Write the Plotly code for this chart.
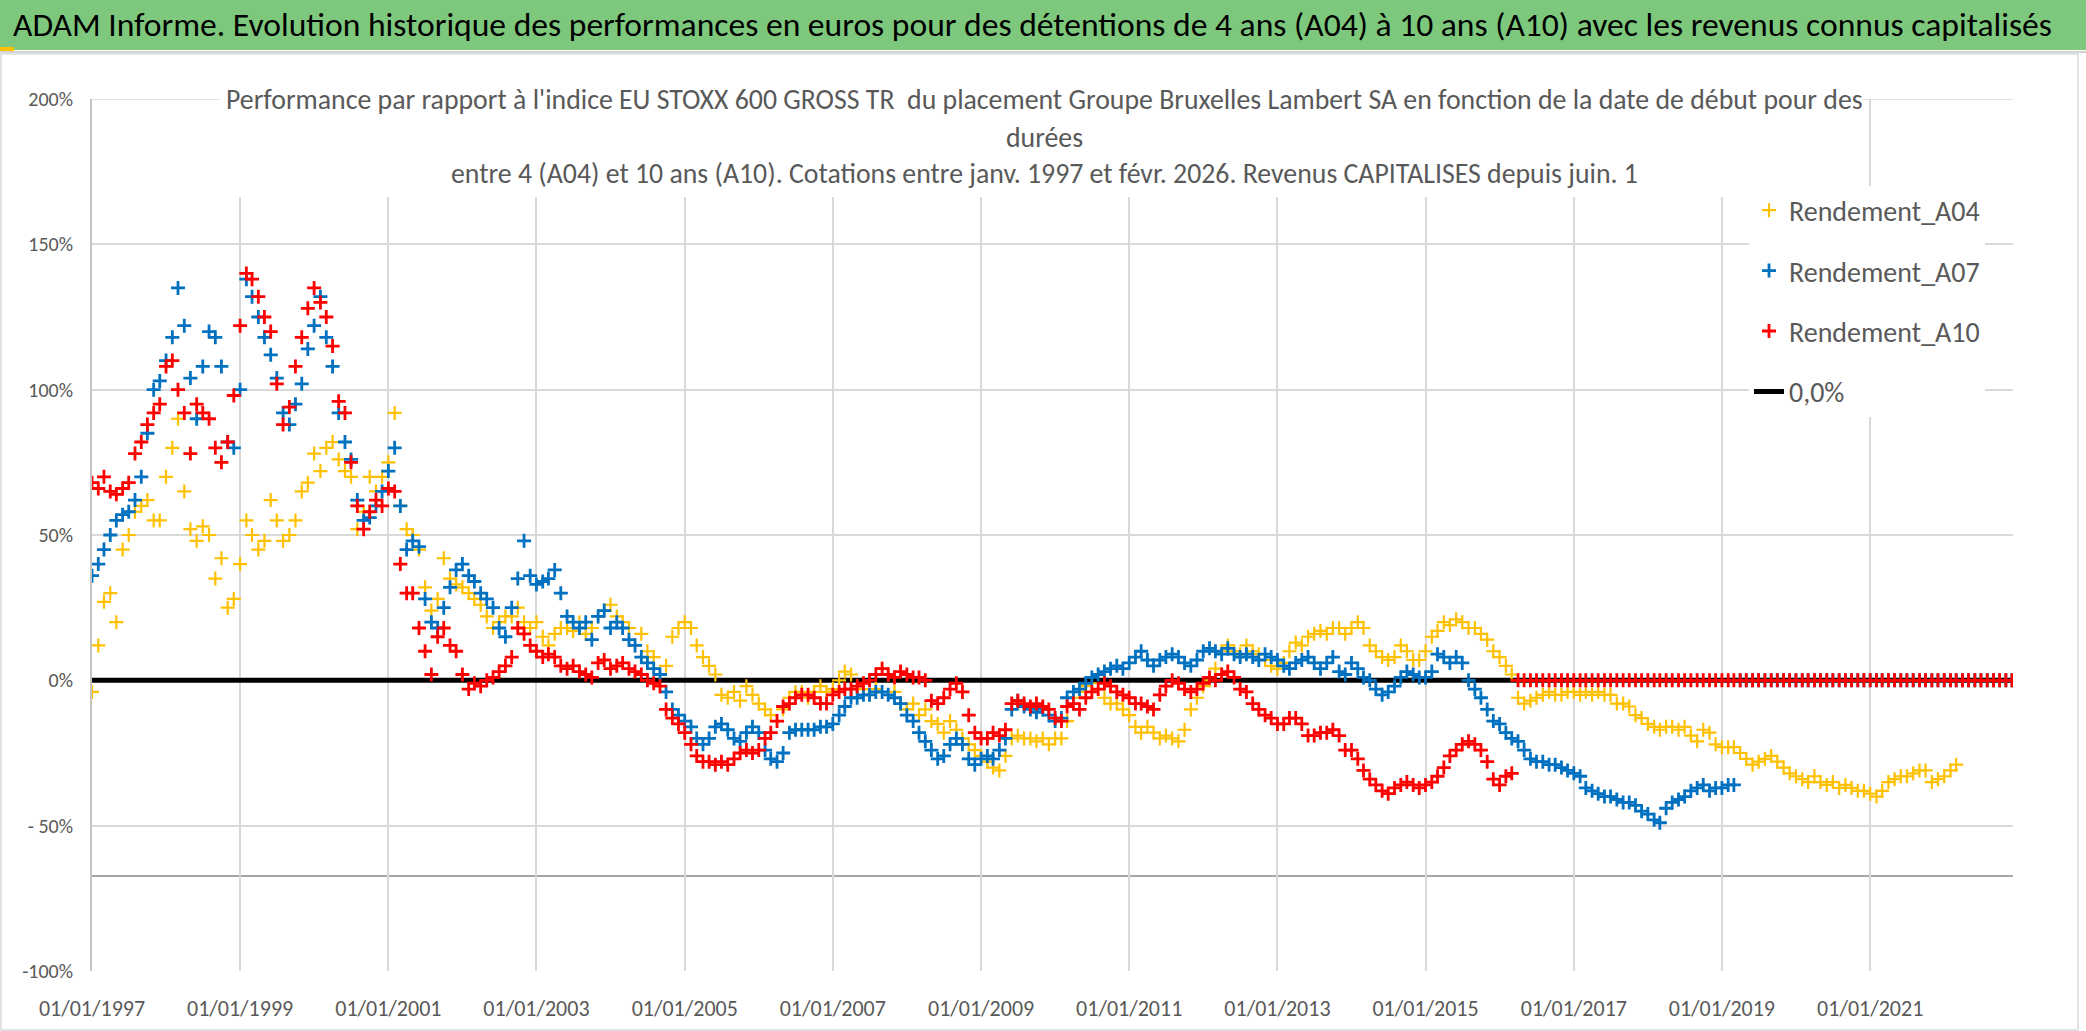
import pandas as pd
import plotly.graph_objects as go

# ---------------- data (monthly readings, % vs index) ----------------
START = "1997-01-01"
N_MONTHS = 312  # Jan 1997 .. Dec 2022

A04 = [
    -4, 12, 27, 30, 20, 45, 50, 58, 60, 62, 55, 55,
    70, 80, 90, 65, 52, 48, 53, 50, 35, 42, 25, 28,
    40, 55, 50, 45, 48, 62, 55, 48, 50, 55, 65, 68,
    78, 72, 80, 82, 76, 72, 70, 52, 58, 70, 65, 70,
    75, 92, 60, 52, 50, 45, 32, 24, 28, 42, 35, 33,
    32, 30, 28, 26, 22, 18, 20, 22, 22, 25, 20, 18,
    20, 15, 12, 16, 18, 18, 17, 20, 16, 18, 22, 24,
    26, 22, 20, 18, 12, 16, 10, 8, 2, 5, 15, 18,
    20, 18, 12, 8, 5, 2, -5, -6, -4, -7, -2, -5,
    -8, -10, -12, -14, -10, -6, -4, -4, -6, -4, -2, -4,
    -3, 0, 3, 2, -2, -3, -5, -3, 4, 2, -4, -8,
    -10, -8, -12, -10, -14, -15, -18, -14, -17, -20, -22, -24,
    -26, -28, -30, -31, -26, -20, -19, -20, -20, -21, -20, -22,
    -20, -20, -14, -6, -4, -2, -1, -3, -6, -8, -8, -10,
    -12, -16, -18, -16, -18, -20, -19, -20, -21, -17, -10, -6,
    -2, 0, 4, 10, 12, 10, 9, 12, 10, 9, 7, 5,
    4, 6, 10, 13, 12, 15, 16, 17, 16, 18, 18, 16,
    18, 20, 18, 12, 10, 8, 7, 8, 12, 10, 7, 7,
    10, 15, 17, 20, 19, 21, 20, 18, 18, 16, 14, 10,
    8, 5, 2, -6, -8, -7, -6, -5, -4, -5, -5, -4,
    -4, -5, -4, -5, -4, -5, -5, -8, -8, -9, -12, -13,
    -15, -16, -17, -16, -16, -17, -16, -19, -21, -17, -18, -22,
    -23, -23, -23, -25, -27, -29, -28, -27, -26, -28, -30, -32,
    -33, -34, -35, -33, -35, -36, -35, -37, -36, -37, -38, -38,
    -39, -40, -38, -35, -34, -33, -33, -32, -31, -31, -35, -34,
    -33, -31, -29,
]
A04_TAIL = [0, 0, 0, 0, 0, 0, 0, 0, 0]

A07 = [
    36, 40, 45, 50, 55, 57, 58, 62, 70, 85, 100, 103,
    110, 118, 135, 122, 104, 90, 108, 120, 118, 108, 82, 80,
    100, 138, 132, 125, 118, 112, 104, 92, 88, 95, 102, 114,
    122, 132, 118, 108, 92, 82, 76, 62, 55, 56, 60, 65,
    72, 80, 60, 45, 48, 46, 28, 20, 18, 25, 32, 38,
    40, 36, 34, 30, 28, 25, 18, 15, 25, 35, 48, 36,
    33, 34, 35, 38, 30, 22, 20, 18, 20, 14, 22, 24,
    18, 20, 18, 14, 12, 8, 6, 4, 2, -4, -10, -12,
    -14, -16, -20, -22, -20, -16, -15, -17, -20, -21, -18, -16,
    -18, -24, -27, -28, -25, -18, -17, -17, -17, -17, -16, -16,
    -15, -12, -9, -6, -6, -5, -5, -4, -4, -5, -6, -8,
    -12, -14, -18, -21, -24, -27, -26, -22, -20, -22, -27, -29,
    -27, -26, -27, -24, -20, -10, -7, -9, -10, -11, -10, -12,
    -14, -13, -6, -4, -3, -1, 1, 2, 3, 4, 5, 4,
    6, 8, 10, 7, 5, 7, 8, 9, 8, 6, 5, 7,
    10, 11, 10, 9, 11, 9, 8, 9, 8, 7, 9, 8,
    7, 5, 4, 6, 7, 8, 6, 4, 6, 8, 3, 2,
    6, 4, 1, 0, -3, -5, -4, -2, 1, 3, 2, 1,
    1, 3, 9, 8, 6, 8, 6, 0, -3, -6, -10, -14,
    -15, -18, -20, -21, -24, -27, -28, -28, -29, -29, -30, -31,
    -32, -33, -37, -38, -39, -40, -40, -41, -42, -42, -43, -45,
    -46, -48, -49, -44, -42, -41, -40, -38, -37, -36, -38, -37,
    -37, -36, -36,
]
A07_TAIL = [
    0, 0, 0, 0, 0, 0, 0, 0, 0, 0, 0, 0, 0, 0, 0, 0, 0, 0, 0, 0, 0, 0, 0,
    0, 0, 0, 0, 0, 0, 0, 0, 0, 0, 0, 0, 0, 0, 0, 0, 0, 0, 0, 0, 0, 0,
]

A10 = [
    68, 66, 70, 65, 64, 66, 68, 78, 82, 88, 92, 95,
    108, 110, 100, 92, 78, 95, 92, 90, 80, 75, 82, 98,
    122, 140, 138, 132, 125, 120, 102, 88, 94, 108, 118, 128,
    135, 130, 125, 115, 96, 92, 75, 60, 52, 58, 62, 60,
    66, 65, 40, 30, 30, 18, 10, 2, 15, 18, 12, 10,
    2, -3, -1, -2, 0, 1, 3, 5, 8, 18, 16, 12,
    10, 8, 9, 8, 5, 4, 5, 3, 2, 1, 6, 7,
    4, 5, 6, 4, 3, 2, 0, -1, -2, -10, -13, -15,
    -18, -22, -26, -28, -28, -29, -28, -29, -27, -25, -24, -25,
    -24, -20, -18, -14, -9, -8, -6, -5, -5, -6, -8, -8,
    -5, -4, -3, -3, -2, -1, 0, 2, 4, 2, 1, 3,
    2, 1, 1, 0, -7, -8, -6, -3, -1, -4, -12, -18,
    -20, -20, -18, -19, -17, -8, -7, -8, -9, -8, -9, -10,
    -13, -14, -9, -8, -10, -6, -4, -3, -1, -2, -4, -5,
    -6, -8, -8, -9, -10, -5, -2, 0, -1, -3, -4, -3,
    -1, 1, 0, 2, 3, 1, -3, -4, -8, -10, -12, -13,
    -15, -15, -13, -13, -15, -19, -19, -18, -18, -17, -19, -24,
    -24, -27, -31, -34, -36, -38, -39, -37, -36, -35, -36, -37,
    -36, -35, -33, -30, -26, -24, -22, -21, -22, -24, -28, -34,
    -36, -33, -32,
]
A10_TAIL = [
    0, 0, 0, 0, 0, 0, 0, 0, 0, 0, 0, 0, 0, 0, 0, 0, 0, 0, 0, 0, 0, 0, 0, 0, 0, 0, 0,
    0, 0, 0, 0, 0, 0, 0, 0, 0, 0, 0, 0, 0, 0, 0, 0, 0, 0, 0, 0, 0, 0, 0, 0, 0, 0, 0,
    0, 0, 0, 0, 0, 0, 0, 0, 0, 0, 0, 0, 0, 0, 0, 0, 0, 0, 0, 0, 0, 0, 0, 0, 0, 0, 0,
]

ZERO_LINE_X = ["1997-01-01", "2022-12-31"]
ZERO_LINE_Y = [0, 0]

X_TICK_VALS = ["1997-01-01", "1999-01-01", "2001-01-01", "2003-01-01", "2005-01-01",
               "2007-01-01", "2009-01-01", "2011-01-01", "2013-01-01", "2015-01-01",
               "2017-01-01", "2019-01-01", "2021-01-01"]
X_TICK_TEXT = ["01/01/1997", "01/01/1999", "01/01/2001", "01/01/2003", "01/01/2005",
               "01/01/2007", "01/01/2009", "01/01/2011", "01/01/2013", "01/01/2015",
               "01/01/2017", "01/01/2019", "01/01/2021"]
Y_TICK_VALS = [-100, -50, 0, 50, 100, 150, 200]
Y_TICK_TEXT = ["-100%", "- 50%", "0%", "50%", "100%", "150%", "200%"]

BANNER = ("ADAM Informe. Evolution historique des performances en euros pour des détentions "
          "de 4 ans (A04) à 10 ans (A10) avec les revenus connus capitalisés")
SUB1 = ("Performance par rapport à l'indice EU STOXX 600 GROSS TR  du placement Groupe Bruxelles "
        "Lambert SA en fonction de la date de début pour des")
SUB2 = "durées"
SUB3 = ("entre 4 (A04) et 10 ans (A10). Cotations entre janv. 1997 et févr. 2026. "
        "Revenus CAPITALISES depuis juin. 1")

# ---------------- layout geometry ----------------
W, H = 2086, 1031
L, R, T, B = 92, 73, 99, 60
PW, PH = W - L - R, H - T - B
FONT = "Carlito, Lato, sans-serif"
GRAY = "#595959"
GRID = "#d9d9d9"


def px_x(px):
    return (px - L) / PW


def px_y(py):
    return (H - B - py) / PH


dates = pd.date_range(START, periods=N_MONTHS, freq="MS")

fig = go.Figure()
fig.add_trace(go.Scatter(x=ZERO_LINE_X, y=ZERO_LINE_Y, mode="lines", name="0,0%",
                         line=dict(color="black", width=5), legendrank=4,
                         legendgroup="g4"))

series = [
    ("Rendement_A04", A04 + A04_TAIL, "#FFC000", 2.2, 1),
    ("Rendement_A07", A07 + A07_TAIL, "#0070C0", 2.8, 2),
    ("Rendement_A10", A10 + A10_TAIL, "#FF0000", 2.8, 3),
]
for name, vals, col, lw, rank in series:
    fig.add_trace(go.Scatter(
        x=dates[:len(vals)], y=vals, mode="markers", name=name,
        marker=dict(symbol="cross-thin", size=10, line=dict(color=col, width=lw)),
        legendrank=rank, legendgroup="g%d" % rank))

shapes = [
    # outer chart border
    dict(type="rect", xref="paper", yref="paper", x0=px_x(1), x1=px_x(2078),
         y0=px_y(1030), y1=px_y(54), line=dict(color=GRID, width=1.5), layer="below"),
    # banner
    dict(type="rect", xref="paper", yref="paper", x0=px_x(0), x1=px_x(W),
         y0=px_y(50), y1=px_y(0), fillcolor="#7DC87D", line=dict(width=0), layer="below"),
    dict(type="line", xref="paper", yref="paper", x0=px_x(0), x1=px_x(W),
         y0=px_y(52), y1=px_y(52), line=dict(color="#d4d4d4", width=2), layer="below"),
    dict(type="rect", xref="paper", yref="paper", x0=px_x(0), x1=px_x(14),
         y0=px_y(51), y1=px_y(47), fillcolor="#FFC000", line=dict(width=0), layer="below"),
    # top gridline (200%)
    dict(type="line", xref="paper", yref="y", x0=0, x1=1, y0=200, y1=200,
         line=dict(color=GRID, width=1.5), layer="below"),
    # odd horizontal axis line
    dict(type="line", xref="paper", yref="y", x0=0, x1=1, y0=-67.3, y1=-67.3,
         line=dict(color="#a6a6a6", width=2), layer="below"),
    # white title box covering gridlines
    dict(type="rect", xref="paper", yref="paper", x0=px_x(219), x1=px_x(1862),
         y0=px_y(197), y1=px_y(84), fillcolor="white", line=dict(width=0), layer="above"),
]

annotations = [
    dict(text=BANNER, xref="paper", yref="paper", x=px_x(11), y=px_y(25),
         xanchor="left", yanchor="middle", showarrow=False,
         font=dict(family=FONT, size=33.6, color="black")),
    dict(text=SUB1, xref="paper", yref="paper", x=px_x(1044), y=px_y(100),
         xanchor="center", yanchor="middle", showarrow=False,
         font=dict(family=FONT, size=27.8, color=GRAY)),
    dict(text=SUB2, xref="paper", yref="paper", x=px_x(1044), y=px_y(137),
         xanchor="center", yanchor="middle", showarrow=False,
         font=dict(family=FONT, size=27.8, color=GRAY)),
    dict(text=SUB3, xref="paper", yref="paper", x=px_x(1044), y=px_y(173),
         xanchor="center", yanchor="middle", showarrow=False,
         font=dict(family=FONT, size=27.8, color=GRAY)),
]

fig.update_layout(
    width=W, height=H,
    margin=dict(l=L, r=R, t=T, b=B, autoexpand=False),
    paper_bgcolor="white", plot_bgcolor="white",
    font=dict(family=FONT, color=GRAY),
    shapes=shapes, annotations=annotations,
    showlegend=True,
    legend=dict(x=px_x(1749), y=px_y(185.5), xanchor="left", yanchor="top",
                bgcolor="white", borderwidth=0, tracegroupgap=21,
                font=dict(family=FONT, size=28, color=GRAY)),
    xaxis=dict(type="date", range=["1997-01-01", "2022-12-06"],
               tickmode="array", tickvals=X_TICK_VALS, ticktext=X_TICK_TEXT,
               showgrid=True, gridcolor=GRID, gridwidth=1.5,
               showline=False, zeroline=False, ticks="",
               tickfont=dict(family=FONT, size=22, color=GRAY),
               ticklabelstandoff=22),
    yaxis=dict(range=[-100, 200], tickmode="array", tickvals=Y_TICK_VALS, ticktext=Y_TICK_TEXT,
               showgrid=True, gridcolor=GRID, gridwidth=1.5,
               showline=True, linecolor="#c4c4c4", linewidth=2,
               zeroline=False, ticks="",
               tickfont=dict(family=FONT, size=20, color=GRAY),
               ticklabelstandoff=13),
)

fig.write_html("out.html",
               config={"displayModeBar": False},
               post_script="document.body.style.margin='0px';"
                           "document.body.style.overflow='hidden';")
